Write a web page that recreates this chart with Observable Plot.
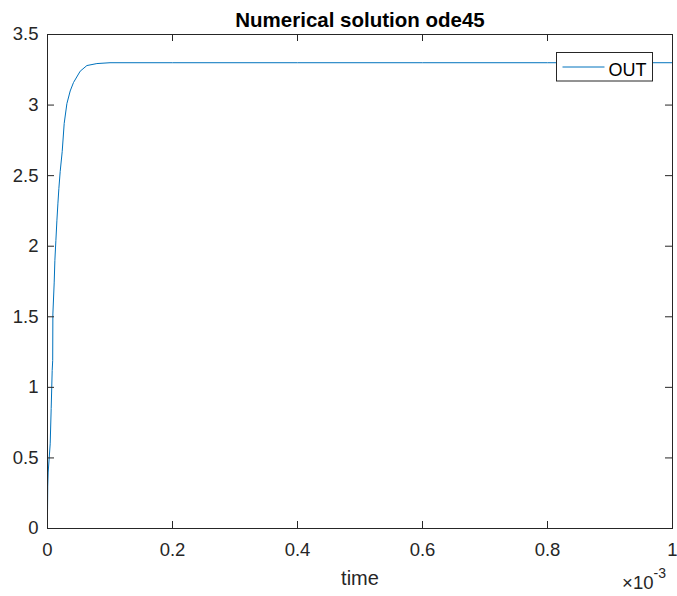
<!DOCTYPE html>
<html>
<head>
<meta charset="utf-8">
<script src="https://cdn.jsdelivr.net/npm/d3@7"></script>
<script src="https://cdn.jsdelivr.net/npm/@observablehq/plot@0.6"></script>
<style>
  html, body { margin: 0; padding: 0; background: #fff; }
  #chart svg { display: block; }
</style>
</head>
<body>
<div id="chart"></div>
<script>
// ode45 output: time in units of 1e-3 s, and the OUT state
const timeMs = [0, 0.0004, 0.0011, 0.0043, 0.0059, 0.0075, 0.0083, 0.0086, 0.0107, 0.0118,
  0.0134, 0.0150, 0.0166, 0.0182, 0.0203, 0.0235, 0.0267, 0.0310, 0.0363, 0.0416,
  0.0523, 0.0630, 0.0790, 0.1000, 0.2000, 0.4000, 0.6000, 0.8000, 1.0000];
const out = [0.11, 0.30, 0.40, 0.60, 0.85, 1.12, 1.19, 1.52, 1.74, 1.90,
  2.04, 2.18, 2.30, 2.41, 2.53, 2.67, 2.87, 3.01, 3.10, 3.16,
  3.24, 3.28, 3.294, 3.30, 3.30, 3.30, 3.30, 3.30, 3.30];

const xTicks = [0, 0.2, 0.4, 0.6, 0.8, 1];
const yTicks = [0, 0.5, 1, 1.5, 2, 2.5, 3, 3.5];
const seriesName = "OUT";

const rows = timeMs.map((t, i) => ({t, v: out[i]}));

const W = 677, H = 596;
const mL = 47, mR = 5, mT = 34, mB = 68;
const fw = W - mL - mR, fh = H - mT - mB;
const ink = "#262626";
const blue = "#0072BD";
const tick = 7;

const chart = Plot.plot({
  width: W,
  height: H,
  marginLeft: mL,
  marginRight: mR,
  marginTop: mT,
  marginBottom: mB,
  style: {fontFamily: "'Liberation Sans', Arial, sans-serif", color: ink, background: "#fff"},
  x: {domain: [0, 1]},
  y: {domain: [0, 3.5]},
  marks: [
    Plot.line(rows, {x: "t", y: "v", stroke: blue, strokeWidth: 1}),
    // inward ticks on all four sides
    Plot.tickX(xTicks, {x: d => d, insetTop: fh - tick, stroke: ink, strokeWidth: 1}),
    Plot.tickX(xTicks, {x: d => d, insetBottom: fh - tick, stroke: ink, strokeWidth: 1}),
    Plot.tickY(yTicks, {y: d => d, insetRight: fw - tick, stroke: ink, strokeWidth: 1}),
    Plot.tickY(yTicks, {y: d => d, insetLeft: fw - tick, stroke: ink, strokeWidth: 1}),
    Plot.frame({stroke: ink, strokeWidth: 1}),
    Plot.axisX({ticks: xTicks, tickSize: 0, tickPadding: 14, fontSize: 18.5, label: null, tickFormat: d => String(d)}),
    Plot.axisY({ticks: yTicks, tickSize: 0, tickPadding: 9, fontSize: 18.5, label: null, tickFormat: d => String(d)}),
    Plot.text(["Numerical solution ode45"], {frameAnchor: "top", dy: -22.5, fontSize: 20.5, fontWeight: "bold", fill: "#000"}),
    Plot.text(["time"], {frameAnchor: "bottom", dy: 56.5, fontSize: 20, fill: ink}),
    Plot.text(["\u00d710"], {frameAnchor: "bottom-right", textAnchor: "end", dx: -19, dy: 60, fontSize: 18.5, fill: ink}),
    Plot.text(["-3"], {frameAnchor: "bottom-right", textAnchor: "start", dx: -19, dy: 49.5, fontSize: 14, fill: ink})
  ]
});

// legend box in the upper right of the axes
const svg = d3.select(chart);
const lg = svg.append("g").attr("transform", `translate(${mL + fw - 115.5},${mT + 18.5})`);
lg.append("rect").attr("width", 96).attr("height", 28.5)
  .attr("fill", "#fff").attr("stroke", ink).attr("stroke-width", 1);
lg.append("line").attr("x1", 6).attr("x2", 48).attr("y1", 14.5).attr("y2", 14.5)
  .attr("stroke", blue).attr("stroke-width", 1);
lg.append("text").attr("x", 52).attr("y", 23.5).attr("font-size", 18).attr("fill", "#000")
  .attr("text-anchor", "start")
  .text(seriesName);

document.getElementById("chart").appendChild(chart);
</script>
</body>
</html>
